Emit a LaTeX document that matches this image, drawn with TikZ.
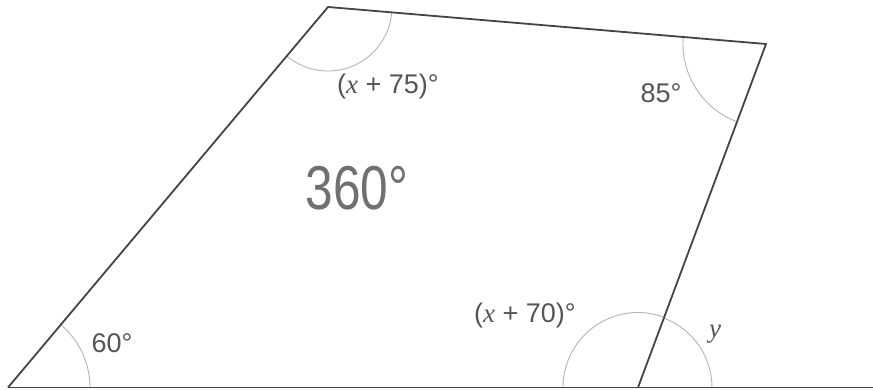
\documentclass[tikz,border=0pt]{standalone}
\usepackage{fontspec}
\setmainfont{Liberation Sans}
\newfontfamily\tms{Liberation Serif}
\definecolor{edgec}{HTML}{444444}
\definecolor{arcc}{HTML}{B4B4B4}
\definecolor{txtc}{HTML}{555555}
\definecolor{handc}{HTML}{707070}
\tikzset{
  edge/.style={draw=edgec, line width=1.8pt, line join=round},
  anglearc/.style={draw=arcc, line width=0.9pt},
  lbl/.style={text=txtc, font=\fontsize{27}{30}\selectfont, inner sep=0pt},
  hand/.style={text=handc, font=\fontsize{62}{62}\selectfont, inner sep=0pt, xscale=0.8}
}
\begin{document}
\begin{tikzpicture}[x=1pt,y=1pt]
\useasboundingbox (0,0) rectangle (873,390);
\coordinate (A) at (8,2.5);
\coordinate (B) at (328,383);
\coordinate (C) at (766,346);
\coordinate (D) at (638,2.5);
\coordinate (E) at (873,2.5);
% angle arcs
\draw[anglearc] ([shift={(0:82)}]A) arc[start angle=0, end angle=49.94, radius=82];
\draw[anglearc] ([shift={(229.94:64)}]B) arc[start angle=229.94, end angle=355.17, radius=64];
\draw[anglearc] ([shift={(175.17:83)}]C) arc[start angle=175.17, end angle=249.56, radius=83];
\draw[anglearc] ([shift={(69.56:75)}]D) arc[start angle=69.56, end angle=180, radius=75];
\draw[anglearc] ([shift={(0:74)}]D) arc[start angle=0, end angle=69.56, radius=74];
% sides
\draw[edge] (A) -- (B) -- (C) -- (D);
\draw[edge] (A) -- (E);
% labels
\node[lbl] (l60) at (112,47) {60°};
\node[lbl] (l75) at (388,303) {({\tms\itshape x} + 75)°};
\node[lbl] (l85) at (661,297) {85°};
\node[lbl] (l70) at (525,74) {({\tms\itshape x} + 70)°};
\node[lbl] (ly) at (715,56) {{\tms\itshape y}};
\node[hand] (l360) at (357,202) {360°};
\end{tikzpicture}
\end{document}
